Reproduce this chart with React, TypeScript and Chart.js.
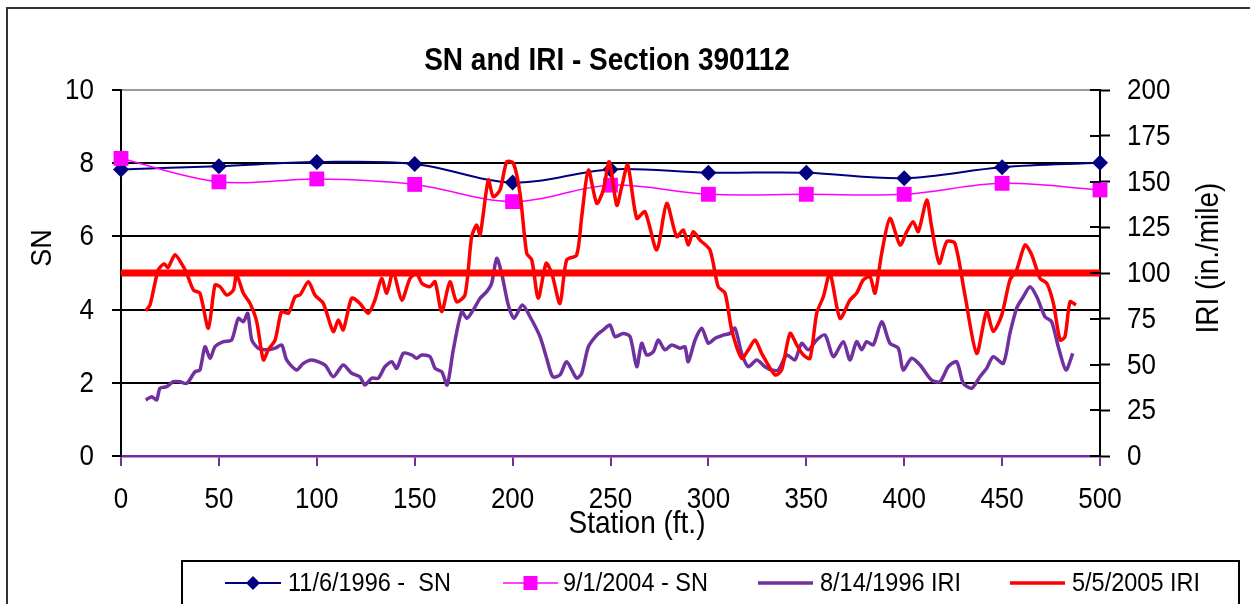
import React, { useEffect, useRef } from 'react';
import { Chart, registerables } from 'chart.js';

Chart.register(...registerables);

const FONT = '"Liberation Sans", Arial, sans-serif';

// SN measurements (primary axis)
const snStations = [0, 50, 100, 150, 200, 250, 300, 350, 400, 450, 500];
const sn1996 = [7.83, 7.92, 8.03, 7.98, 7.47, 7.83, 7.74, 7.74, 7.59, 7.89, 8.01];
const sn2004 = [8.13, 7.49, 7.57, 7.42, 6.95, 7.4, 7.15, 7.15, 7.15, 7.45, 7.27];

// 8/14/1996 IRI (secondary axis)
const iri1996Stations = [
  12.6, 15.7, 18.2, 19.9, 23.3, 26.7, 30.1, 33.6, 37.8, 40.3,
  42.9, 45.5, 48, 52.3, 56.5, 59.9, 62.5, 64.7, 66.8, 70.1,
  75.2, 78.7, 82.1, 84.6, 89.7, 93.1, 97.4, 104.2, 108.4, 113.5,
  117.8, 122, 124.6, 128, 131.4, 134.8, 138.3, 140.8, 144.2, 148.5,
  151, 153.6, 157.8, 160.4, 163.8, 166.6, 169.7, 174, 176.6, 179.9,
  183.4, 186.8, 189.3, 191.9, 194.4, 197.8, 200.7, 205, 208.9, 214,
  217.4, 220.5, 224.2, 227.6, 232.7, 235.3, 238.7, 243, 246.3, 249.7,
  252.3, 256.5, 260, 263.4, 265.9, 268.5, 271.9, 274.4, 277.8, 281.3,
  285.5, 288, 289.7, 293.2, 296.6, 300, 303.4, 307.6, 311, 313.6,
  317, 320.4, 324.7, 328.9, 332.3, 335.7, 340, 344.2, 347.6, 351,
  355.3, 359.6, 363.8, 368.9, 372.3, 375.7, 378.3, 380.8, 384.2, 388.5,
  392.7, 397, 399.5, 403.8, 408.1, 414, 418.3, 422.5, 426.8, 430.2,
  434.5, 438.7, 442.1, 445.5, 450.6, 454, 457.4, 460.8, 464.3, 467.7,
  471.9, 475.3, 478.7, 482.6, 486.1,
];
const iri1996 = [
  30.6, 32.4, 30.6, 37, 37.9, 40.6, 40.6, 39.7, 46, 47,
  59.7, 53.4, 59.7, 62.5, 63.4, 75.2, 73.4, 78, 63.4, 58.9,
  58, 58.9, 60.7, 52.5, 47, 50.6, 52.5, 49.7, 43.3, 49.7,
  45.2, 43.3, 38.8, 42.5, 42.5, 48.8, 51.5, 47.9, 56.1, 55.2,
  53.4, 55.2, 54.3, 47.9, 46, 38.8, 58, 78.9, 75.2, 79.8,
  86.2, 89.8, 94.4, 108, 99.8, 82.5, 75.2, 82.5, 76.1, 65.2,
  53.4, 43.3, 44.3, 51.5, 42.5, 45.2, 59.7, 66.1, 68.9, 71.6,
  65.2, 67, 65.2, 48.8, 61.6, 55.2, 57, 63.4, 58, 60.7,
  58.9, 59.7, 51.5, 63.4, 69.8, 61.6, 64.3, 66.1, 67, 69.8,
  56.1, 48.8, 52.5, 48.8, 47, 47, 55.2, 52.5, 61.6, 58,
  63.4, 66.1, 54.3, 62.5, 52.5, 62.5, 58, 62.5, 60.7, 73.4,
  61.6, 58.9, 47, 53.4, 49.7, 41.5, 40.6, 48.8, 51.5, 39.7,
  37, 43.3, 47.9, 54.3, 50.6, 67, 80.7, 87, 92.5, 87,
  76.1, 73.4, 59.7, 47, 56.1,
];

// 5/5/2005 IRI (secondary axis)
const iri2005Stations = [
  12.6, 14.8, 19, 22, 24, 27.6, 31, 33.5, 37, 40.3,
  44.6, 48, 50.6, 54, 57.4, 59, 62.5, 65.9, 69.3, 72.7,
  75.2, 78.7, 82, 85.5, 88.9, 91.4, 95.7, 99, 103.3, 108.4,
  111, 113.5, 117.8, 122, 126.3, 129.7, 133.1, 135.7, 139, 143.4,
  147.6, 151, 153.6, 157.8, 160.4, 163.8, 168, 171.4, 175.7, 179.1,
  181.7, 183.4, 187.6, 190.1, 193.6, 197, 200.4, 203.8, 207.2, 209.8,
  213.1, 217.1, 220, 224.2, 227.6, 232.7, 235.3, 238.7, 243, 246.3,
  249.4, 253.2, 255.7, 258.8, 263.4, 267.6, 273.6, 278.7, 283.8, 287.2,
  289.7, 292.3, 295.7, 300.8, 305, 308.5, 311.9, 317, 320.4, 323.8,
  327.2, 334, 337.4, 341.7, 345.1, 348.5, 351.9, 355.3, 358.7, 362.1,
  367.2, 372.3, 375.7, 379.1, 382.5, 385.1, 388.5, 392.7, 397.9, 401.3,
  404.6, 407.2, 411.5, 414, 417.9, 421.7, 425.9, 431, 437, 442.1,
  445.5, 449.8, 454, 457.4, 461.7, 465.1, 469.4, 472.8, 476.2, 479.6,
  482.1, 484.7, 487.7,
];
const iri2005 = [
  79.4, 82.5, 101.6, 105, 103, 110, 105, 100, 90.7, 89,
  69.8, 93.4, 92.5, 88, 90.7, 99, 89, 83.4, 73.4, 52.5,
  58, 63.4, 78.9, 78, 87, 88, 95.2, 88, 83.4, 68,
  74.3, 68.9, 86.2, 83.4, 78, 85.2, 97, 89, 100.7, 85.2,
  97, 99.8, 94.4, 92.5, 95.2, 78.9, 95.2, 84.3, 88, 119.9,
  126.2, 120.8, 150.8, 141.7, 145.4, 160.8, 160, 143.5, 110.8, 107.1,
  86.2, 105.3, 99.8, 83.4, 107.1, 109.8, 130.8, 156.3, 138, 145.4,
  160.8, 137, 147, 159, 129.9, 133.5, 112.6, 138, 119.9, 123.5,
  115.3, 122.6, 118, 112.6, 92.5, 89, 68.9, 53.4, 58, 63.4,
  56.1, 44.3, 47, 67, 60.7, 55.2, 53.4, 78, 87, 99.8,
  75.2, 85.2, 89, 96.2, 98, 89, 110.8, 129.9, 115.3, 122.6,
  128, 122.6, 139.9, 125.3, 105.3, 117.1, 116.2, 88, 56.1, 78.9,
  68, 77, 96.2, 101.6, 115.3, 110, 97, 94.4, 83.4, 63.4,
  65.2, 84.3, 82.5,
];

// IRI threshold line
const thresholdStations = [0, 500];
const thresholdIri = [100, 100];

const seriesLabels = ['11/6/1996 -  SN', '9/1/2004 - SN', '8/14/1996 IRI', '5/5/2005 IRI'];
const chartTitle = 'SN and IRI - Section 390112';
const xTitle = 'Station (ft.)';
const yTitle = 'SN';
const y1Title = 'IRI (in./mile)';

const NAVY = '#000080';
const MAGENTA = '#FF00FF';
const PURPLE = '#7030A0';
const RED = '#FF0000';
const STRETCH = 1.12; // the reference's lettering is slightly tall

function pts(xs: number[], ys: number[]) {
  return xs.map((x, i) => ({ x, y: ys[i] }));
}

function diamond(ctx: CanvasRenderingContext2D, x: number, y: number, r: number) {
  ctx.beginPath();
  ctx.moveTo(x, y - r);
  ctx.lineTo(x + r, y);
  ctx.lineTo(x, y + r);
  ctx.lineTo(x - r, y);
  ctx.closePath();
  ctx.fill();
}

function tallText(
  ctx: CanvasRenderingContext2D,
  text: string,
  x: number,
  y: number,
  font: string,
  align: CanvasTextAlign,
  baseline: CanvasTextBaseline,
  rotate = 0,
) {
  ctx.save();
  ctx.translate(x, y);
  if (rotate) ctx.rotate(rotate);
  ctx.scale(1, STRETCH);
  ctx.font = font;
  ctx.textAlign = align;
  ctx.textBaseline = baseline;
  ctx.fillStyle = '#000';
  ctx.fillText(text, 0, 0);
  ctx.restore();
}

export default function App() {
  const ref = useRef<HTMLCanvasElement>(null);

  useEffect(() => {
    const canvas = ref.current;
    if (!canvas) return;

    const decor = {
      id: 'decor',
      beforeDraw(chart: any) {
        const ctx = chart.ctx as CanvasRenderingContext2D;
        ctx.save();
        ctx.fillStyle = '#fff';
        ctx.fillRect(0, 0, chart.width, chart.height);
        ctx.strokeStyle = '#333';
        ctx.lineWidth = 2;
        ctx.strokeRect(7, 8, 1300, 700);
        ctx.restore();
      },
      afterDraw(chart: any) {
        const ctx = chart.ctx as CanvasRenderingContext2D;
        const area = chart.chartArea;
        ctx.save();
        // inner tick marks on secondary axis
        const y1 = chart.scales.y1;
        const y = chart.scales.y;
        const x = chart.scales.x;
        ctx.strokeStyle = '#000';
        ctx.lineWidth = 2;
        ctx.beginPath();
        y1.ticks.forEach((t: any) => {
          const py = Math.round(y1.getPixelForValue(t.value));
          ctx.moveTo(area.right - 10, py);
          ctx.lineTo(area.right, py);
        });
        ctx.stroke();

        // tick labels
        const tf = `26px ${FONT}`;
        x.ticks.forEach((t: any) => {
          tallText(ctx, String(t.value), x.getPixelForValue(t.value), 500, tf, 'center', 'middle');
        });
        y.ticks.forEach((t: any) => {
          tallText(ctx, String(t.value), area.left - 27, y.getPixelForValue(t.value) + 1, tf, 'right', 'middle');
        });
        y1.ticks.forEach((t: any) => {
          tallText(ctx, String(t.value), area.right + 27, y1.getPixelForValue(t.value) + 1, tf, 'left', 'middle');
        });

        // titles
        tallText(ctx, chartTitle, 607, 70, `bold 28px ${FONT}`, 'center', 'alphabetic');
        tallText(ctx, xTitle, 637, 533, `28px ${FONT}`, 'center', 'alphabetic');
        tallText(ctx, yTitle, 51, 248, `27px ${FONT}`, 'center', 'alphabetic', -Math.PI / 2);
        tallText(ctx, y1Title, 1218, 258, `28px ${FONT}`, 'center', 'alphabetic', -Math.PI / 2);

        // legend box
        ctx.strokeStyle = '#000';
        ctx.lineWidth = 2;
        ctx.strokeRect(182, 561, 1057, 200);
        const ly = 583;
        const items = [
          { x0: 225, x1: 281, tx: 288, color: NAVY, w: 2, marker: 'diamond' },
          { x0: 503, x1: 558, tx: 563, color: MAGENTA, w: 1.5, marker: 'square' },
          { x0: 758, x1: 813, tx: 820, color: PURPLE, w: 3.5, marker: '' },
          { x0: 1010, x1: 1065, tx: 1072, color: RED, w: 3.5, marker: '' },
        ];
        items.forEach((it, i) => {
          ctx.strokeStyle = it.color;
          ctx.lineWidth = it.w;
          ctx.beginPath();
          ctx.moveTo(it.x0, ly);
          ctx.lineTo(it.x1, ly);
          ctx.stroke();
          ctx.fillStyle = it.color;
          const cx = (it.x0 + it.x1) / 2;
          if (it.marker === 'diamond') diamond(ctx, cx, ly, 7);
          if (it.marker === 'square') ctx.fillRect(cx - 7, ly - 7, 14, 14);
          tallText(ctx, seriesLabels[i], it.tx, ly + 1, `23.5px ${FONT}`, 'left', 'middle');
        });
        ctx.restore();
      },
    };

    const tickFont = { size: 26, family: FONT };

    const chart = new Chart(canvas, {
      type: 'line',
      data: {
        datasets: [
          {
            label: seriesLabels[0],
            data: pts(snStations, sn1996),
            yAxisID: 'y',
            borderColor: NAVY,
            backgroundColor: NAVY,
            borderWidth: 2,
            pointStyle: 'rectRot',
            pointRadius: 8,
            pointBorderWidth: 0,
            tension: 0.35,
            clip: false,
            order: 5,
          },
          {
            label: seriesLabels[1],
            data: pts(snStations, sn2004),
            yAxisID: 'y',
            borderColor: MAGENTA,
            backgroundColor: MAGENTA,
            borderWidth: 1.5,
            pointStyle: 'rect',
            pointRadius: 10.5,
            pointBorderWidth: 0,
            tension: 0.35,
            clip: false,
            order: 4,
          },
          {
            label: seriesLabels[2],
            data: pts(iri1996Stations, iri1996),
            yAxisID: 'y1',
            borderColor: PURPLE,
            backgroundColor: PURPLE,
            borderWidth: 3.5,
            pointRadius: 0,
            tension: 0.25,
            borderJoinStyle: 'round',
            order: 3,
          },
          {
            label: seriesLabels[3],
            data: pts(iri2005Stations, iri2005),
            yAxisID: 'y1',
            borderColor: RED,
            backgroundColor: RED,
            borderWidth: 3.5,
            pointRadius: 0,
            tension: 0.25,
            borderJoinStyle: 'round',
            order: 2,
          },
          {
            label: 'threshold',
            data: pts(thresholdStations, thresholdIri),
            yAxisID: 'y1',
            borderColor: RED,
            backgroundColor: RED,
            borderWidth: 7,
            pointRadius: 0,
            order: 1,
          },
        ],
      },
      options: {
        animation: false,
        responsive: false,
        devicePixelRatio: 1,
        layout: { padding: { top: 90, left: 0, right: 0, bottom: 0 } },
        plugins: {
          legend: { display: false },
          title: { display: false },
          tooltip: { enabled: false },
        },
        scales: {
          x: {
            type: 'linear',
            position: 'bottom',
            min: 0,
            max: 500,
            afterFit: (s: any) => {
              s.height = 148;
            },
            ticks: {
              display: false,
              stepSize: 50,
              font: tickFont,
              maxRotation: 0,
              autoSkip: false,
            },
            grid: {
              drawOnChartArea: false,
              drawTicks: true,
              tickLength: 10,
              tickColor: PURPLE,
              tickWidth: 2,
              color: PURPLE,
              lineWidth: 2,
            },
            border: { display: true, color: PURPLE, width: 2.5 },
          },
          y: {
            type: 'linear',
            position: 'left',
            min: 0,
            max: 10,
            afterFit: (s: any) => {
              s.width = 121;
            },
            ticks: { display: false, stepSize: 2, font: tickFont },
            grid: {
              color: (c: any) => {
                const v = c.tick ? c.tick.value : null;
                if (v === 0) return 'rgba(0,0,0,0)';
                if (v === 10) return '#9a9a9a';
                return '#000';
              },
              lineWidth: 2,
              drawTicks: true,
              tickLength: 9,
              tickColor: '#000',
              tickWidth: 2,
            },
            border: { display: true, color: '#000', width: 2 },
          },
          y1: {
            type: 'linear',
            position: 'right',
            min: 0,
            max: 200,
            afterFit: (s: any) => {
              s.width = 150;
            },
            ticks: { display: false, stepSize: 25, font: tickFont },
            grid: {
              drawOnChartArea: false,
              drawTicks: true,
              tickLength: 10,
              tickColor: '#000',
              tickWidth: 2,
            },
            border: { display: true, color: '#000', width: 2 },
          },
        },
      },
      plugins: [decor],
    } as any);

    return () => chart.destroy();
  }, []);

  return (
    <div style={{ position: 'absolute', left: 0, top: 0, width: 1250, height: 604, background: '#fff', overflow: 'hidden' }}>
      <canvas ref={ref} width={1250} height={604} style={{ display: 'block', width: 1250, height: 604 }} />
    </div>
  );
}
